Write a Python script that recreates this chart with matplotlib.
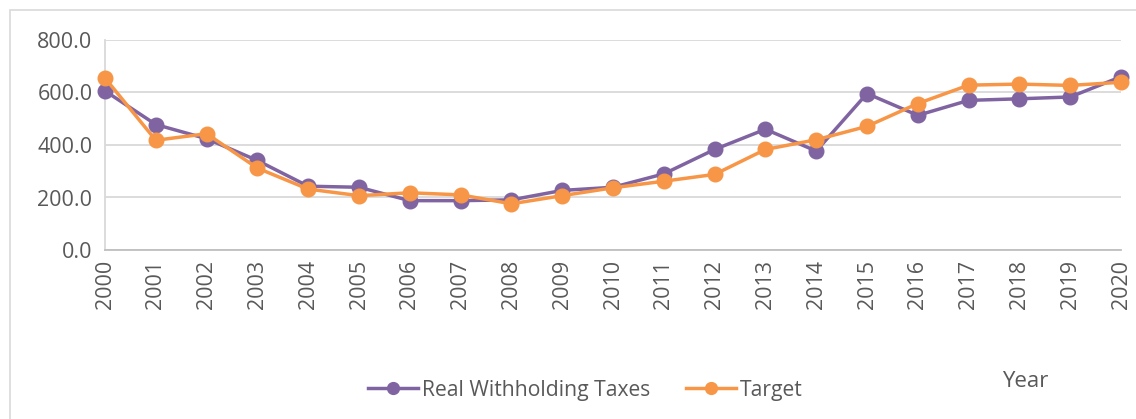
import matplotlib
matplotlib.use("Agg")
import matplotlib.pyplot as plt
from matplotlib.patches import Rectangle
from matplotlib.lines import Line2D

plt.rcParams['font.family'] = ['Open Sans', 'DejaVu Sans']

years = [str(y) for y in range(2000, 2021)]
real_taxes = [606, 478, 424, 341, 243, 239, 188, 188, 191, 227, 239,
              290, 383, 460, 377, 596, 513, 570, 576, 583, 660]
target = [655, 418, 443, 312, 232, 207, 218, 210, 176, 207, 237,
          262, 288, 383, 420, 471, 558, 628, 632, 627, 639]
yticks = [0, 200, 400, 600, 800]

purple = '#8064A2'
orange = '#F79646'
textc = '#595959'

W, H = 1136, 419
fig = plt.figure(figsize=(W / 100, H / 100), dpi=100)
fig.patch.set_facecolor('white')

# outer chart border
fig.add_artist(Rectangle((10 / W, -0.05), 1.2, 1 - 10 / H + 0.05,
                         transform=fig.transFigure, fill=False,
                         edgecolor='#D9D9D9', linewidth=1.2))

ax = fig.add_axes([105 / W, 1 - 250 / H, (1121 - 105) / W, (250 - 40) / H])
x = list(range(len(years)))
ax.plot(x, real_taxes, color=purple, lw=2.5, marker='o', ms=10.5,
        label='Real Withholding Taxes', zorder=3, clip_on=False)
ax.plot(x, target, color=orange, lw=2.5, marker='o', ms=10.5,
        label='Target', zorder=4, clip_on=False)

ax.set_xlim(0, len(years) - 1)
ax.set_ylim(0, 800)
ax.set_yticks(yticks)
ax.set_yticklabels([f'{v:.1f}' for v in yticks], fontsize=15.5, color=textc)
ax.set_xticks(x)
ax.set_xticklabels(years, rotation=90, fontsize=15.5, color=textc)
ax.tick_params(axis='both', length=0)
ax.tick_params(axis='y', pad=9)
ax.tick_params(axis='x', pad=7)
ax.grid(axis='y', color='#D9D9D9', lw=1.3)
ax.set_axisbelow(True)
for s in ['top', 'right']:
    ax.spines[s].set_visible(False)
ax.spines['left'].set_color('#D9D9D9')
ax.spines['left'].set_linewidth(1.3)
ax.spines['bottom'].set_color('#BFBFBF')
ax.spines['bottom'].set_linewidth(1.3)

handles = [Line2D([], [], color=purple, lw=2.5, marker='o', ms=8.5),
           Line2D([], [], color=orange, lw=2.5, marker='o', ms=8.5)]
leg = fig.legend(handles, ['Real Withholding Taxes', 'Target'],
                 loc='center', bbox_to_anchor=(585 / W, 1 - 390 / H),
                 ncol=2, frameon=False, fontsize=15.2, handlelength=2.4,
                 handletextpad=0.15, columnspacing=1.7)
for t in leg.get_texts():
    t.set_color(textc)

fig.text(1025 / W, 1 - 381 / H, 'Year', ha='center', va='center',
         fontsize=16, color=textc)

fig.savefig('out.png', dpi=100)
